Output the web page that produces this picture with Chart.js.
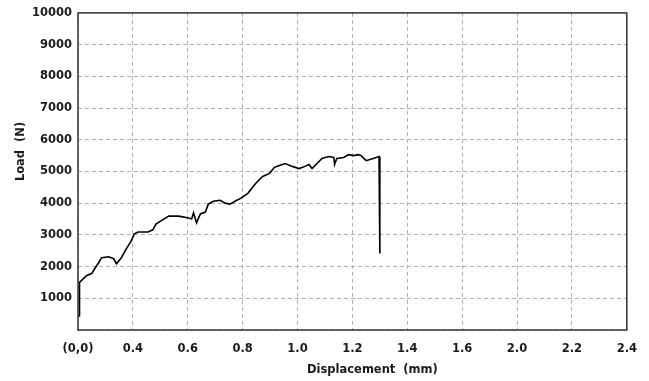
<!DOCTYPE html>
<html>
<head>
<meta charset="utf-8">
<script src="https://cdn.jsdelivr.net/npm/chart.js@4.4.0/dist/chart.umd.min.js"></script>
<style>
  html, body { margin: 0; padding: 0; background: #fff; }
  #wrap { width: 649px; height: 381px; }
</style>
</head>
<body>
<div id="wrap"><canvas id="chart" width="649" height="381"></canvas></div>
<script>
// Данные кривой (смещение, мм / нагрузка, Н)
const displacement = [
  0.200, 0.204, 0.204, 0.207, 0.232, 0.250, 0.261, 0.276, 0.286, 0.312,
  0.330, 0.340, 0.358, 0.376, 0.394, 0.405, 0.419, 0.455, 0.473, 0.484,
  0.502, 0.531, 0.567, 0.603, 0.614, 0.621, 0.632, 0.646, 0.664, 0.675,
  0.693, 0.718, 0.736, 0.754, 0.772, 0.794, 0.819, 0.848, 0.873, 0.898,
  0.916, 0.934, 0.955, 0.981, 1.006, 1.027, 1.042, 1.053, 1.071, 1.089,
  1.114, 1.132, 1.135, 1.143, 1.168, 1.186, 1.204, 1.222, 1.232, 1.250,
  1.276, 1.297, 1.300
];
const load = [
  400, 450, 1470, 1500, 1720, 1780, 1940, 2130, 2280, 2310,
  2250, 2090, 2280, 2560, 2810, 3030, 3090, 3090, 3160, 3340,
  3440, 3590, 3590, 3530, 3500, 3690, 3380, 3660, 3720, 3970,
  4060, 4090, 4000, 3970, 4060, 4160, 4310, 4630, 4840, 4940,
  5130, 5190, 5250, 5160, 5090, 5160, 5220, 5090, 5250, 5410,
  5470, 5440, 5220, 5410, 5440, 5530, 5500, 5530, 5500, 5340,
  5410, 5470, 2410
];

// Подписи осей
const xTickLabels = ['(0,0)', '0.4', '0.6', '0.8', '1.0', '1.2', '1.4', '1.6', '2.0', '2.2', '2.4'];
const xTitle = 'Displacement  (mm)';
const yTitle = 'Load  (N)';

const font = { family: 'DejaVu Sans', size: 11.5, weight: 'bold' };
const textColor = '#1a1a1a';
const gridColor = '#b0b0b0';

// Рамка вокруг области графика
const frame = {
  id: 'frame',
  afterDraw(chart) {
    const a = chart.chartArea;
    const c = chart.ctx;
    c.save();
    c.strokeStyle = '#333';
    c.lineWidth = 1.5;
    c.strokeRect(a.left, a.top, a.right - a.left, a.bottom - a.top);
    c.restore();
  }
};

const points = displacement.map((x, i) => ({ x: x, y: load[i] }));

new Chart(document.getElementById('chart').getContext('2d'), {
  type: 'line',
  data: {
    datasets: [{
      data: points,
      borderColor: '#000',
      borderWidth: 1.6,
      pointRadius: 0,
      tension: 0,
      fill: false
    }]
  },
  options: {
    responsive: false,
    animation: false,
    layout: { padding: { left: 0, right: 15, top: 10, bottom: 0 } },
    plugins: {
      legend: { display: false },
      tooltip: { enabled: false }
    },
    scales: {
      x: {
        type: 'linear',
        min: 0.2,
        max: 2.2,
        afterFit: s => { s.height = 51; },
        afterBuildTicks: s => {
          s.ticks = xTickLabels.map((_, i) => ({ value: 0.2 + i * 0.2 }));
        },
        border: { display: false, dash: [4, 3] },
        grid: { color: gridColor, lineWidth: 1, drawTicks: false },
        ticks: {
          padding: 12,
          color: textColor,
          font: font,
          maxRotation: 0,
          autoSkip: false,
          callback: (v, i) => xTickLabels[i]
        },
        title: {
          display: true,
          text: '          ' + xTitle,
          color: textColor,
          font: font,
          padding: { top: 0, bottom: 4 }
        }
      },
      y: {
        min: 0,
        max: 10000,
        afterFit: s => { s.width = 78; },
        border: { display: false, dash: [4, 3] },
        grid: { color: gridColor, lineWidth: 1, drawTicks: false },
        ticks: {
          stepSize: 1000,
          padding: 6,
          color: textColor,
          font: font,
          callback: v => v === 0 ? '' : String(v)
        },
        title: {
          display: true,
          text: '          ' + yTitle,
          color: textColor,
          font: font,
          padding: { top: 14, bottom: 0 }
        }
      }
    }
  },
  plugins: [frame]
});
</script>
</body>
</html>
